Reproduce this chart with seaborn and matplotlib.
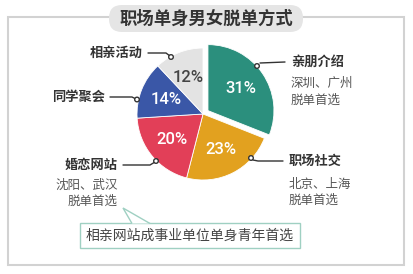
import matplotlib
matplotlib.use("Agg")
import matplotlib.pyplot as plt
import seaborn as sns
from matplotlib.patches import FancyBboxPatch, Rectangle, Circle, Polygon

# ---- data ----
categories = ["亲朋介绍", "职场社交", "婚恋网站", "同学聚会", "相亲活动"]
values = [31, 23, 20, 14, 12]
pct_labels = ["31%", "23%", "20%", "14%", "12%"]
sub_labels = [["深圳、广州", "脱单首选"], ["北京、上海", "脱单首选"], ["沈阳、武汉", "脱单首选"], [], []]
title = "职场单身男女脱单方式"
note = "相亲网站成事业单位单身青年首选"

colors = ["#2b8f7d", "#e2a11f", "#e23f58", "#3a57a7", "#e3e3e3"]
pct_colors = ["white", "white", "white", "white", "#444444"]
explode = [6, 0, 0, 0, 0]

sns.set_theme(style="white")
plt.rcParams["font.family"] = ["Noto Sans CJK SC", "DejaVu Sans"]

W, H = 414, 274
fig = plt.figure(figsize=(W / 100, H / 100), dpi=100)
ax = fig.add_axes([0, 0, 1, 1])

# frame
ax.add_patch(Rectangle((8, 17), 396, 248, facecolor="white", edgecolor="#d2d2d2", lw=1.5, zorder=0))
# title pill
ax.add_patch(FancyBboxPatch((109, 5), 194, 27, boxstyle="round,pad=0,rounding_size=13",
                            facecolor="#e5e5e5", edgecolor="none", zorder=1))
ax.text(206, 18.5, title, ha="center", va="center", fontsize=12.5, fontweight="bold", color="#333333", zorder=2)

wedges, texts, autotexts = ax.pie(values, colors=colors, explode=explode, startangle=-90, counterclock=True,
                                  center=(203, 114), radius=66, autopct="%d%%", pctdistance=0.6,
                                  wedgeprops=dict(edgecolor="white", linewidth=0.6),
                                  textprops=dict(fontsize=12))
for t, c, s in zip(autotexts, pct_colors, pct_labels):
    t.set_color(c)
    t.set_text(s)
    t.set_fontfamily(["Roboto", "DejaVu Sans"])
    t.set_fontweight("medium")

ax.set_xlim(0, W)
ax.set_ylim(H, 0)
ax.set_axis_off()

dark = "#333333"
sub = "#555555"

def leader(pts, circ):
    xs, ys = zip(*pts)
    ax.plot(xs, ys, color=dark, lw=1, zorder=3, solid_capstyle="round")
    ax.add_patch(Circle(circ, 2.3, facecolor="white", edgecolor=dark, lw=1, zorder=4))

# 亲朋介绍
ax.text(291, 62, categories[0], ha="left", va="center", fontsize=9.5, fontweight="bold", color=dark)
for i, s in enumerate(sub_labels[0]):
    ax.text(291, 83 + 17 * i, s, ha="left", va="center", fontsize=9, color=sub)
leader([(260, 63), (285, 62)], (257, 66))

# 职场社交
ax.text(289, 161, categories[1], ha="left", va="center", fontsize=9.5, fontweight="bold", color=dark)
for i, s in enumerate(sub_labels[1]):
    ax.text(289, 184 + 16.5 * i, s, ha="left", va="center", fontsize=9, color=sub)
leader([(253, 160), (258, 161), (283, 161)], (251, 158))

# 婚恋网站
ax.text(118, 165, categories[2], ha="right", va="center", fontsize=9.5, fontweight="bold", color=dark)
for i, s in enumerate(sub_labels[2]):
    ax.text(118, 185 + 16.5 * i, s, ha="right", va="center", fontsize=9, color=sub)
leader([(123, 165), (150, 165), (155, 162)], (156, 161))

# 同学聚会
ax.text(105, 97, categories[3], ha="right", va="center", fontsize=9.5, fontweight="bold", color=dark)
leader([(110, 97), (132, 97), (136, 99)], (137, 99.5))

# 相亲活动
ax.text(143, 53, categories[4], ha="right", va="center", fontsize=9.5, fontweight="bold", color=dark)
leader([(148, 53), (166, 53), (170, 56)], (171, 57))

# note callout
ax.add_patch(Rectangle((80, 223), 220, 25, facecolor="white", edgecolor="#9fd0c2", lw=1, zorder=3))
ax.add_patch(Polygon([(132, 223.5), (123, 208), (150, 223.5)], closed=False, facecolor="white",
                     edgecolor="#9fd0c2", lw=1, zorder=4))
ax.text(190, 235.5, note, ha="center", va="center", fontsize=10, color="#444444", zorder=5)

fig.savefig("out.png", dpi=100)
